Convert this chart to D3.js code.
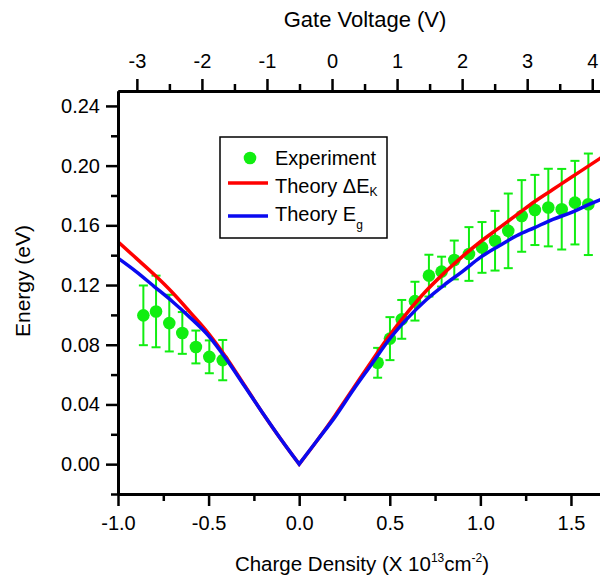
<!DOCTYPE html>
<html>
<head>
<meta charset="utf-8">
<script src="https://cdn.jsdelivr.net/npm/d3@7"></script>
<style>
  html, body { margin: 0; padding: 0; background: #fff; }
  svg { display: block; font-family: "Liberation Sans", Arial, sans-serif; }
</style>
</head>
<body>
<div id="graph"></div>
<script>
'use strict';

// theory curves (charge density in 10^13 cm^-2, energy in eV)
const densityGrid = [-1.0, -0.9, -0.8, -0.7, -0.6, -0.5, -0.4, -0.3, -0.2, -0.1, 0.0,
                     0.1, 0.2, 0.3, 0.4, 0.5, 0.6, 0.7, 0.8, 0.9, 1.0, 1.1, 1.2, 1.3, 1.4, 1.5, 1.6, 1.7];
const theoryDeltaEK = [0.149, 0.138, 0.127, 0.115, 0.1015, 0.0875, 0.071, 0.0525, 0.034, 0.0165, 0.0,
                       0.016, 0.033, 0.051, 0.069, 0.0865, 0.102, 0.116, 0.128, 0.139, 0.149, 0.158, 0.167, 0.176, 0.184, 0.192, 0.200, 0.208];
const theoryEg = [0.138, 0.129, 0.119, 0.109, 0.098, 0.086, 0.070, 0.052, 0.034, 0.0165, 0.0,
                  0.016, 0.032, 0.050, 0.067, 0.084, 0.098, 0.110, 0.120, 0.129, 0.1385, 0.146, 0.153, 0.1585, 0.164, 0.1685, 0.174, 0.179];

// experiment
const expDensity = [-0.860, -0.790, -0.717, -0.645, -0.570, -0.496, -0.422,
                    0.433, 0.501, 0.566, 0.639, 0.716, 0.786, 0.856, 0.937, 1.009, 1.081, 1.154, 1.228, 1.301, 1.375, 1.449, 1.522, 1.596];
const expEnergy = [0.0997, 0.1023, 0.0945, 0.0879, 0.0785, 0.0719, 0.0697,
                   0.0679, 0.0841, 0.0970, 0.1092, 0.1263, 0.1290, 0.1368, 0.1408, 0.1452, 0.1497, 0.1563, 0.1663, 0.1703, 0.1719, 0.1708, 0.1752, 0.1741];
const expError = [0.020, 0.024, 0.019, 0.014, 0.011, 0.011, 0.0135,
                  0.010, 0.0144, 0.013, 0.013, 0.014, 0.010, 0.013, 0.018, 0.017, 0.020, 0.025, 0.024, 0.0235, 0.026, 0.027, 0.028, 0.034];

// ticks
const densityTicks = [-1.0, -0.5, 0.0, 0.5, 1.0, 1.5];
const densityMinor = [-0.75, -0.25, 0.25, 0.75, 1.25];
const energyTicks = [0.00, 0.04, 0.08, 0.12, 0.16, 0.20, 0.24];
const energyMinor = [-0.02, 0.02, 0.06, 0.10, 0.14, 0.18, 0.22];
const gateTicks = [-3, -2, -1, 0, 1, 2, 3, 4];
const gateMinor = [-2.5, -1.5, -0.5, 0.5, 1.5, 2.5, 3.5];

const red = '#ff0000';
const blue = '#0a0af0';
const green = '#11ee11';

const width = 600;
const height = 580;
const margin = {top: 91, left: 118, bottom: 494, right: 607.2};

const svg = d3.select('#graph')
    .append('svg')
    .attr('width', width)
    .attr('height', height);

svg.append('rect').attr('width', width).attr('height', height).attr('fill', '#fff');

const x = d3.scaleLinear().domain([-1.0, 1.7]).range([margin.left, margin.right]);
const y = d3.scaleLinear().domain([-0.02, 0.25]).range([margin.bottom, margin.top]);
const gate = d3.scaleLinear().domain([-3.29, 4.23]).range([margin.left, margin.right]);

// plain hyphen minus, like the original
const fmt = f => d => d3.format(f)(d).replace('\u2212', '-');

function styleAxis(g, size) {
    g.style('font-size', size + 'px').style('font-family', '"Liberation Sans", Arial, sans-serif');
    g.select('.domain').attr('stroke-width', 3);
    g.selectAll('.tick line').attr('stroke-width', 2.5);
    g.selectAll('.tick text').attr('fill', '#000');
}

// experiment points (drawn under the curves)
const points = svg.append('g');
const idx = d3.range(expDensity.length);

points.selectAll('line.bar')
    .data(idx)
    .join('line')
    .attr('class', 'bar')
    .attr('stroke', green)
    .attr('stroke-width', 2)
    .attr('x1', i => x(expDensity[i]))
    .attr('x2', i => x(expDensity[i]))
    .attr('y1', i => y(expEnergy[i] - expError[i]))
    .attr('y2', i => y(expEnergy[i] + expError[i]));

[-1, 1].forEach(s => {
    points.append('g').selectAll('line')
        .data(idx)
        .join('line')
        .attr('stroke', green)
        .attr('stroke-width', 2)
        .attr('x1', i => x(expDensity[i]) - 4.5)
        .attr('x2', i => x(expDensity[i]) + 4.5)
        .attr('y1', i => y(expEnergy[i] + s * expError[i]))
        .attr('y2', i => y(expEnergy[i] + s * expError[i]));
});

points.selectAll('circle')
    .data(idx)
    .join('circle')
    .attr('fill', green)
    .attr('cx', i => x(expDensity[i]))
    .attr('cy', i => y(expEnergy[i]))
    .attr('r', 6.3);

// theory curves: each branch smoothed on its own so the V stays sharp at zero
const zero = densityGrid.indexOf(0);
const line = values => {
    const gen = d3.line()
        .curve(d3.curveMonotoneX)
        .x(i => x(densityGrid[i]))
        .y(i => y(values[i]));
    const left = gen(d3.range(0, zero + 1));
    const right = gen(d3.range(zero, densityGrid.length));
    return left + 'L' + right.slice(1);
};

svg.append('path')
    .attr('d', line(theoryDeltaEK))
    .attr('fill', 'none')
    .attr('stroke', red)
    .attr('stroke-width', 3.5);

svg.append('path')
    .attr('d', line(theoryEg))
    .attr('fill', 'none')
    .attr('stroke', blue)
    .attr('stroke-width', 3.5);

// axes
svg.append('g')
    .attr('transform', `translate(0,${margin.bottom})`)
    .call(d3.axisBottom(x).tickValues(densityMinor).tickSize(7).tickSizeOuter(0).tickFormat(''))
    .call(g => styleAxis(g, 20));

svg.append('g')
    .attr('transform', `translate(0,${margin.bottom})`)
    .call(d3.axisBottom(x).tickValues(densityTicks).tickSize(12).tickPadding(10).tickSizeOuter(0).tickFormat(fmt('.1f')))
    .call(g => styleAxis(g, 20));

svg.append('g')
    .attr('transform', `translate(0,${margin.top})`)
    .call(d3.axisTop(gate).tickValues(gateMinor).tickSize(7).tickSizeOuter(0).tickFormat(''))
    .call(g => styleAxis(g, 20));

svg.append('g')
    .attr('transform', `translate(0,${margin.top})`)
    .call(d3.axisTop(gate).tickValues(gateTicks).tickSize(12).tickPadding(11).tickSizeOuter(0).tickFormat(fmt('d')))
    .call(g => styleAxis(g, 20));

svg.append('g')
    .attr('transform', `translate(${margin.left},0)`)
    .call(d3.axisLeft(y).tickValues(energyMinor).tickSize(7).tickSizeOuter(0).tickFormat(''))
    .call(g => styleAxis(g, 20));

svg.append('g')
    .attr('transform', `translate(${margin.left},0)`)
    .call(d3.axisLeft(y).tickValues(energyTicks).tickSize(12).tickPadding(6).tickSizeOuter(0).tickFormat(fmt('.2f')))
    .call(g => styleAxis(g, 20));

// axis titles
svg.append('text')
    .attr('x', 365)
    .attr('y', 27)
    .attr('text-anchor', 'middle')
    .style('font-size', '22px')
    .text('Gate Voltage (V)');

svg.append('text')
    .attr('transform', 'translate(30,281) rotate(-90)')
    .attr('text-anchor', 'middle')
    .style('font-size', '21px')
    .text('Energy (eV)');

const xt = svg.append('text')
    .attr('x', 362)
    .attr('y', 571)
    .attr('text-anchor', 'middle')
    .style('font-size', '20.5px');
xt.append('tspan').text('Charge Density (X 10');
xt.append('tspan').attr('dy', -9).style('font-size', '12px').text('13');
xt.append('tspan').attr('dy', 9).text('cm');
xt.append('tspan').attr('dy', -9).style('font-size', '12px').text('-2');
xt.append('tspan').attr('dy', 9).text(')');

// legend
const legend = svg.append('g');
legend.append('rect')
    .attr('x', 220).attr('y', 137)
    .attr('width', 167).attr('height', 101)
    .attr('fill', '#fff')
    .attr('stroke', '#000')
    .attr('stroke-width', 1.5);

legend.append('circle').attr('cx', 250).attr('cy', 158).attr('r', 6.3).attr('fill', green);
legend.append('text').attr('x', 275).attr('y', 165).style('font-size', '20px').text('Experiment');

legend.append('line').attr('x1', 228).attr('x2', 268).attr('y1', 183).attr('y2', 183)
    .attr('stroke', red).attr('stroke-width', 3.5);
const t1 = legend.append('text').attr('x', 275).attr('y', 193).style('font-size', '20px');
t1.append('tspan').text('Theory \u0394E');
t1.append('tspan').attr('dy', 3).style('font-size', '12px').text('K');

legend.append('line').attr('x1', 228).attr('x2', 268).attr('y1', 216).attr('y2', 216)
    .attr('stroke', blue).attr('stroke-width', 3.5);
const t2 = legend.append('text').attr('x', 275).attr('y', 221).style('font-size', '20px');
t2.append('tspan').text('Theory E');
t2.append('tspan').attr('dy', 8).style('font-size', '12px').text('g');
</script>
</body>
</html>
